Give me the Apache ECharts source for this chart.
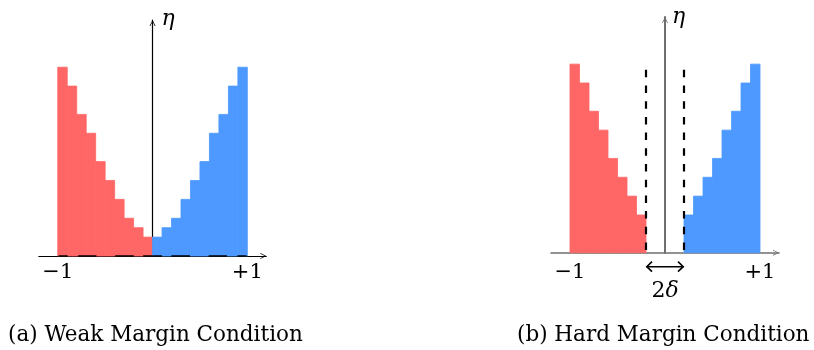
<!DOCTYPE html>
<html>
<head>
<meta charset="utf-8">
<script src="https://cdn.jsdelivr.net/npm/echarts@6/dist/echarts.min.js"></script>
<style>html,body{margin:0;padding:0;background:#fff}#c{width:814px;height:350px}</style>
</head>
<body>
<div id="c"></div>
<script>
// ---------- data ----------
const binWidth = 0.1;
const weakRedStarts   = [-1.0, -0.9, -0.8, -0.7, -0.6, -0.5, -0.4, -0.3, -0.2, -0.1];
const weakRedHeights  = [1.0, 0.9, 0.75, 0.65, 0.5, 0.4, 0.3, 0.2, 0.15, 0.1];
const weakBlueStarts  = [0.0, 0.1, 0.2, 0.3, 0.4, 0.5, 0.6, 0.7, 0.8, 0.9];
const weakBlueHeights = [0.1, 0.15, 0.2, 0.3, 0.4, 0.5, 0.65, 0.75, 0.9, 1.0];
const hardRedStarts   = [-1.0, -0.9, -0.8, -0.7, -0.6, -0.5, -0.4, -0.3];
const hardRedHeights  = [1.0, 0.9, 0.75, 0.65, 0.5, 0.4, 0.3, 0.2];
const hardBlueStarts  = [0.2, 0.3, 0.4, 0.5, 0.6, 0.7, 0.8, 0.9];
const hardBlueHeights = [0.2, 0.3, 0.4, 0.5, 0.65, 0.75, 0.9, 1.0];
const delta = 0.2;
const marginLineTop = 0.97;
const tickValues = [-1, 1];
const tickLabels = ['−1', '+1'];
const captions = ['(a) Weak Margin Condition', '(b) Hard Margin Condition'];
const yName = 'η';
const gapLabel = ['2', 'δ'];

// ---------- styling ----------
const RED = '#ff6666', BLUE = '#4d99ff';
const SERIF = 'DejaVu Serif';
const ARROW = 'path://M0,10 L5,0 L10,10 L8.6,10 L5,2.6 L1.4,10 Z';

function bars(starts, heights) {
  return starts.map((s, i) => [s, s + binWidth, heights[i]]);
}
function barRender(params, api) {
  const p0 = api.coord([api.value(0), api.value(2)]);
  const p1 = api.coord([api.value(1), 0]);
  const c = api.visual('color');
  return {
    type: 'rect',
    shape: { x: p0[0], y: p0[1], width: p1[0] - p0[0], height: p1[1] - p0[1] },
    style: { fill: c, stroke: c, lineWidth: 0.8 }
  };
}
function xAxisCfg(idx, color, width, margin) {
  return {
    type: 'value', gridIndex: idx, min: -1.2, max: 1.2,
    splitLine: { show: false }, axisTick: { show: false },
    axisLine: { lineStyle: { color: color, width: width }, symbol: ['none', ARROW], symbolSize: [9, 6], symbolOffset: [0, -3] },
    axisLabel: {
      customValues: tickValues, margin: margin, color: '#000',
      fontFamily: SERIF, fontSize: 21,
      formatter: v => tickLabels[tickValues.indexOf(v)]
    }
  };
}
function yAxisCfg(idx, color, width, gap, pad) {
  return {
    type: 'value', gridIndex: idx, min: 0, max: 1.25,
    splitLine: { show: false }, axisTick: { show: false }, axisLabel: { show: false },
    axisLine: { onZero: true, lineStyle: { color: color, width: width }, symbol: ['none', ARROW], symbolSize: [9, 6], symbolOffset: [0, -3] },
    name: yName, nameLocation: 'end', nameGap: gap,
    nameTextStyle: { fontFamily: SERIF, fontStyle: 'italic', fontSize: 22, color: '#000', align: 'left', verticalAlign: 'middle', padding: [0, 0, 0, pad] }
  };
}

const chart = echarts.init(document.getElementById('c'), null, { renderer: 'canvas' });
chart.setOption({
  animation: false,
  backgroundColor: '#fff',
  title: [
    { text: captions[0], left: 8, top: 324, padding: 0, textStyle: { fontFamily: SERIF, fontSize: 21.5, fontWeight: 'normal', color: '#000' } },
    { text: captions[1], left: 517, top: 324, padding: 0, textStyle: { fontFamily: SERIF, fontSize: 21.5, fontWeight: 'normal', color: '#000' } }
  ],
  grid: [
    { left: 38.8, top: 20, width: 227.5, height: 236 },
    { left: 551, top: 17, width: 228, height: 235.7 }
  ],
  xAxis: [xAxisCfg(0, '#000', 1.2, 6), xAxisCfg(1, '#6f6f6f', 1.6, 9)],
  yAxis: [yAxisCfg(0, '#000', 1.2, 1, 9), yAxisCfg(1, '#6f6f6f', 2, 0, 7)],
  series: [
    { type: 'custom', xAxisIndex: 0, yAxisIndex: 0, color: RED, data: bars(weakRedStarts, weakRedHeights), renderItem: barRender },
    { type: 'custom', xAxisIndex: 0, yAxisIndex: 0, color: BLUE, data: bars(weakBlueStarts, weakBlueHeights), renderItem: barRender },
    { type: 'custom', xAxisIndex: 1, yAxisIndex: 1, color: RED, data: bars(hardRedStarts, hardRedHeights), renderItem: barRender },
    { type: 'custom', xAxisIndex: 1, yAxisIndex: 1, color: BLUE, data: bars(hardBlueStarts, hardBlueHeights), renderItem: barRender },
    // dashed baseline over the weak-margin bars
    { type: 'custom', xAxisIndex: 0, yAxisIndex: 0, z: 5,
      data: [[weakRedStarts[0]], [weakBlueStarts[weakBlueStarts.length - 1] + binWidth]],
      renderItem: (params, api) => {
        const a = api.coord([0, 0]), b = api.coord([api.value(0), 0]);
        return { type: 'line', shape: { x1: a[0], y1: a[1], x2: b[0], y2: b[1] },
          style: { stroke: '#000', lineWidth: 1.6, lineDash: [9.4, 9.4, 18.6, 18.7, 18.3, 10.5, 9, 100] } };
      } },
    // hard margin dashed lines
    { type: 'custom', xAxisIndex: 1, yAxisIndex: 1, z: 5,
      data: [[-delta], [delta]],
      renderItem: (params, api) => {
        const a = api.coord([api.value(0), marginLineTop]), b = api.coord([api.value(0), 0]);
        return { type: 'line', shape: { x1: a[0], y1: a[1], x2: b[0], y2: b[1] },
          style: { stroke: '#000', lineWidth: 2.2, lineDash: [7.5, 8.2] } };
      } },
    // 2δ double arrow and label
    { type: 'custom', xAxisIndex: 1, yAxisIndex: 1, z: 5,
      data: [[-delta, delta]],
      renderItem: (params, api) => {
        const a = api.coord([api.value(0), 0]), b = api.coord([api.value(1), 0]);
        const y = a[1] + 14;
        const st = { stroke: '#000', lineWidth: 1.6, fill: null };
        return { type: 'group', children: [
          { type: 'line', shape: { x1: a[0] + 0.5, y1: y, x2: b[0] - 0.5, y2: y }, style: st },
          { type: 'polyline', shape: { points: [[a[0] + 6, y - 5], [a[0] + 0.8, y], [a[0] + 6, y + 5]] }, style: st },
          { type: 'polyline', shape: { points: [[b[0] - 6, y - 5], [b[0] - 0.8, y], [b[0] - 6, y + 5]] }, style: st },
          { type: 'text', x: (a[0] + b[0]) / 2, y: y + 25,
            style: { text: '{n|' + gapLabel[0] + '}{i|' + gapLabel[1] + '}', align: 'center', verticalAlign: 'middle',
              rich: { n: { fontFamily: SERIF, fontSize: 22, fill: '#000' }, i: { fontFamily: SERIF, fontStyle: 'italic', fontSize: 22, fill: '#000' } } } }
        ] };
      } }
  ]
});
</script>
</body>
</html>
